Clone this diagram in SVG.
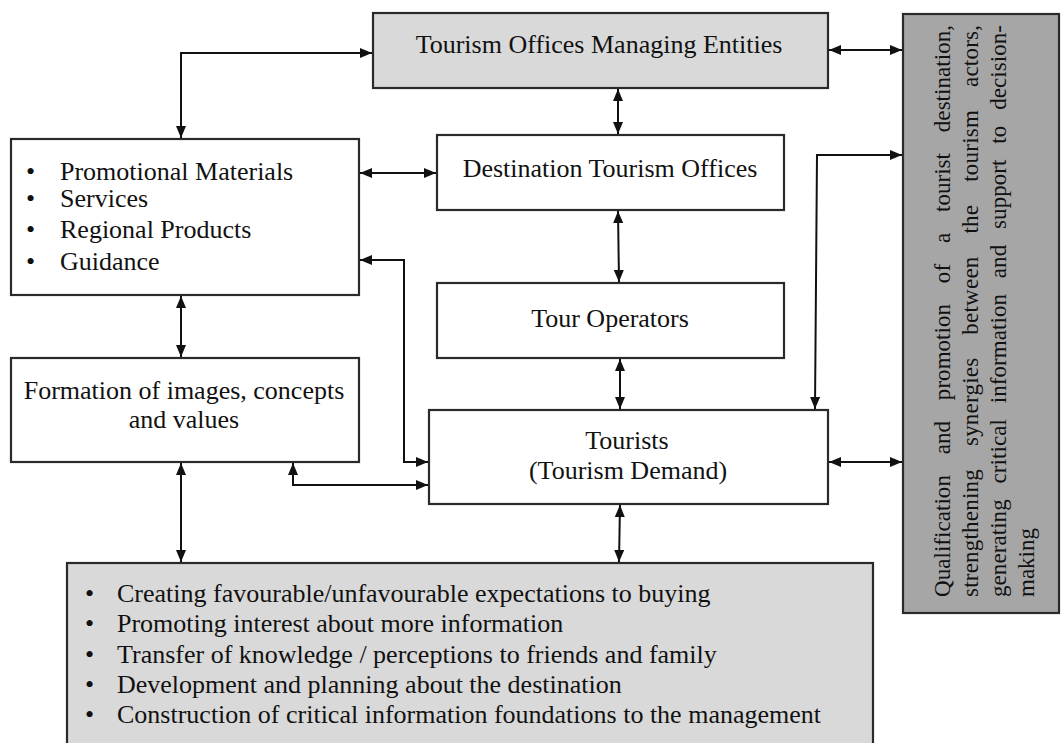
<svg xmlns="http://www.w3.org/2000/svg" width="1061" height="743" viewBox="0 0 1061 743">
<style>
.box{stroke:#2a2a2a;stroke-width:2.2}
.w{fill:#ffffff}
.g{fill:#d9d9d9}
.d{fill:#a6a6a6}
text{font-family:"Liberation Serif","Times New Roman",serif;fill:#111}
.t{font-size:26px}
.c{text-anchor:middle}
.r{font-size:23px}
.conn path{fill:none;stroke:#111;stroke-width:2;marker-start:url(#ah);marker-end:url(#ah)}
</style>
<defs>
<marker id="ah" viewBox="0 0 12 10" refX="12" refY="5" markerWidth="12" markerHeight="10" markerUnits="userSpaceOnUse" orient="auto-start-reverse">
<path d="M0,0 L12,5 L0,10 Z" fill="#111"/>
</marker>
</defs>
<rect width="1061" height="743" fill="#ffffff"/>
<g id="n-managing">
<rect class="box g" x="373" y="13" width="455" height="75"/>
<text class="t c" x="599" y="53">Tourism Offices Managing Entities</text>
</g>
<g id="n-destination">
<rect class="box w" x="437" y="135" width="347" height="75"/>
<text class="t c" x="610" y="177">Destination Tourism Offices</text>
</g>
<g id="n-promotional">
<rect class="box w" x="11" y="139" width="348" height="156"/>
<text class="t" x="26" y="180">•</text><text class="t" x="60" y="180">Promotional Materials</text>
<text class="t" x="26" y="207">•</text><text class="t" x="60" y="207">Services</text>
<text class="t" x="26" y="238">•</text><text class="t" x="60" y="238">Regional Products</text>
<text class="t" x="26" y="270">•</text><text class="t" x="60" y="270">Guidance</text>
</g>
<g id="n-touroperators">
<rect class="box w" x="437" y="283" width="347" height="75"/>
<text class="t c" x="610" y="327">Tour Operators</text>
</g>
<g id="n-formation">
<rect class="box w" x="11" y="358" width="348" height="104"/>
<text class="t c" x="184" y="399">Formation of images, concepts</text>
<text class="t c" x="184" y="428">and values</text>
</g>
<g id="n-tourists">
<rect class="box w" x="429" y="410" width="399" height="94"/>
<text class="t c" x="627" y="449">Tourists</text>
<text class="t c" x="628" y="479">(Tourism Demand)</text>
</g>
<g id="n-effects">
<rect class="box g" x="67" y="563" width="806" height="200"/>
<text class="t" x="85" y="602">•</text><text class="t" x="117" y="602">Creating favourable/unfavourable expectations to buying</text>
<text class="t" x="85" y="632">•</text><text class="t" x="117" y="632">Promoting interest about more information</text>
<text class="t" x="85" y="663">•</text><text class="t" x="117" y="663">Transfer of knowledge / perceptions to friends and family</text>
<text class="t" x="85" y="693">•</text><text class="t" x="117" y="693">Development and planning about the destination</text>
<text class="t" x="85" y="723">•</text><text class="t" x="117" y="723">Construction of critical information foundations to the management</text>
</g>
<g id="n-qualification">
<rect class="box d" x="903" y="14" width="156" height="599"/>
<text class="r" transform="translate(950,597) rotate(-90)" word-spacing="15" textLength="572" lengthAdjust="spacing">Qualification and promotion of a tourist destination,</text>
<text class="r" transform="translate(978,597) rotate(-90)" word-spacing="17" textLength="572" lengthAdjust="spacing">strengthening synergies between the tourism actors,</text>
<text class="r" transform="translate(1006,597) rotate(-90)" word-spacing="10" textLength="572" lengthAdjust="spacing">generating critical information and support to decision-</text>
<text class="r" transform="translate(1034,597) rotate(-90)">making</text>
</g>
<g id="connectors" class="conn">
<path d="M181,138 L181,53 L372,53"/>
<path d="M829,50 L902,50"/>
<path d="M618,89 L618,134"/>
<path d="M360,173 L436,173"/>
<path d="M618,211 L619,282"/>
<path d="M360,260 L404,260 L404,462 L428,462"/>
<path d="M181,296 L181,357"/>
<path d="M293,463 L293,485 L428,485"/>
<path d="M620,359 L620,409"/>
<path d="M815,409 L817,155 L902,155"/>
<path d="M829,462 L902,462"/>
<path d="M181,463 L181,562"/>
<path d="M620,505 L619,562"/>
</g>
</svg>
